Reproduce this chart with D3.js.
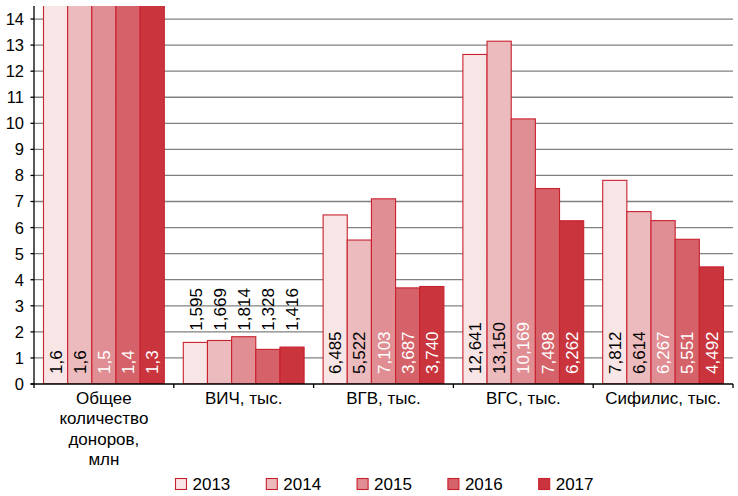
<!DOCTYPE html>
<html><head><meta charset="utf-8">
<script src="https://cdn.jsdelivr.net/npm/d3@7/dist/d3.min.js"></script>
<style>
html,body{margin:0;padding:0;background:#fff;}
svg{display:block;font-family:"Liberation Sans",Arial,Helvetica,sans-serif;}
</style></head>
<body><svg id="chart" width="738" height="496"></svg>
<script>
// ---- data ----
const categories = ["Общее количество доноров, млн", "ВИЧ, тыс.", "ВГВ, тыс.", "ВГС, тыс.", "Сифилис, тыс."];
const categoryLines = [["Общее", "количество", "доноров,", "млн"], ["ВИЧ, тыс."], ["ВГВ, тыс."], ["ВГС, тыс."], ["Сифилис, тыс."]];
const years = ["2013", "2014", "2015", "2016", "2017"];
const v2013 = [1.6, 1.595, 6.485, 12.641, 7.812];
const v2014 = [1.6, 1.669, 5.522, 13.150, 6.614];
const v2015 = [1.5, 1.814, 7.103, 10.169, 6.267];
const v2016 = [1.4, 1.328, 3.687, 7.498, 5.551];
const v2017 = [1.3, 1.416, 3.740, 6.262, 4.492];
const yTicks = [0, 1, 2, 3, 4, 5, 6, 7, 8, 9, 10, 11, 12, 13, 14];
// first category is in millions; plotted in thousands like the others
const unitFactor = [1000, 1, 1, 1, 1];
const labelDecimals = [1, 3, 3, 3, 3];

// ---- styles ----
const fills = ["#f8e6e7", "#ecbbbe", "#e08e93", "#d56268", "#c9343d"];
const strokeCol = "#c9202e";
const inLabelColors = ["#000", "#000", "#fff", "#fff", "#fff"];

const series = [v2013, v2014, v2015, v2016, v2017];
const svg = d3.select("#chart");
const pL = 34, pR = 733, pT = 6, pB = 384;

const x0 = d3.scaleBand().domain(categories).range([pL, pR]).paddingInner(0).paddingOuter(0);
const x1 = d3.scaleBand().domain(years).range([9.5, x0.bandwidth() - 9.5]).padding(0);
const y = d3.scaleLinear().domain([0, 14.5]).range([pB, pT]);

const loc = d3.formatLocale({decimal: ",", thousands: " ", grouping: [3], currency: ["", ""]});

// clip
svg.append("defs").append("clipPath").attr("id", "plotclip")
  .append("rect").attr("x", pL).attr("y", pT).attr("width", pR - pL).attr("height", pB - pT);

// gridlines
svg.append("g").selectAll("line").data(yTicks.filter(d => d > 0)).join("line")
  .attr("x1", pL).attr("x2", pR)
  .attr("y1", d => y(d)).attr("y2", d => y(d))
  .attr("stroke", "#808080").attr("stroke-width", 1.3);

// bars
const barsG = svg.append("g").attr("clip-path", "url(#plotclip)");
categories.forEach((c, ci) => {
  years.forEach((yr, yi) => {
    const v = series[yi][ci] * unitFactor[ci];
    barsG.append("rect")
      .attr("x", x0(c) + x1(yr))
      .attr("y", y(v))
      .attr("width", x1.bandwidth())
      .attr("height", y(0) - y(v))
      .attr("fill", fills[yi])
      .attr("stroke", strokeCol)
      .attr("stroke-width", 1.1);
  });
});

// labels
const labelsG = svg.append("g").attr("font-size", 17);
categories.forEach((c, ci) => {
  const fmt = loc.format("." + labelDecimals[ci] + "f");
  const texts = years.map((yr, yi) => fmt(series[yi][ci]));
  const vals = years.map((yr, yi) => series[yi][ci] * unitFactor[ci]);
  const fits = vals.every((v, i) => (y(0) - y(v)) > texts[i].length * 8.5 + 16);
  const groupMax = d3.max(vals);
  years.forEach((yr, yi) => {
    const cx = x0(c) + x1(yr) + x1.bandwidth() / 2;
    const sy = fits ? y(0) - 10 : y(groupMax) - 6;
    labelsG.append("text")
      .attr("transform", `translate(${cx},${sy}) rotate(-90)`)
      .attr("dy", "0.36em")
      .attr("text-anchor", "start")
      .attr("fill", fits ? inLabelColors[yi] : "#000")
      .text(texts[yi]);
  });
});

// y axis
const yAxis = svg.append("g");
yAxis.append("line").attr("x1", pL).attr("x2", pL).attr("y1", pT).attr("y2", pB)
  .attr("stroke", "#000").attr("stroke-width", 1.3);
yAxis.selectAll("line.tk").data(yTicks).join("line").attr("class", "tk")
  .attr("x1", pL - 3.5).attr("x2", pL).attr("y1", d => y(d)).attr("y2", d => y(d))
  .attr("stroke", "#000").attr("stroke-width", 1.3);
yAxis.selectAll("text").data(yTicks).join("text")
  .attr("x", 24).attr("y", d => y(d)).attr("dy", "0.36em")
  .attr("text-anchor", "end").attr("font-size", 16.5).attr("fill", "#000")
  .text(d => d);

// x axis
const xAxis = svg.append("g");
xAxis.append("line").attr("x1", pL - 3.5).attr("x2", pR).attr("y1", pB).attr("y2", pB)
  .attr("stroke", "#000").attr("stroke-width", 1.3);
const bounds = categories.map(c => x0(c)).concat([pR]);
xAxis.selectAll("line.tk").data(bounds).join("line").attr("class", "tk")
  .attr("x1", d => d).attr("x2", d => d).attr("y1", pB).attr("y2", pB + 4)
  .attr("stroke", "#000").attr("stroke-width", 1.3);
categories.forEach((c, ci) => {
  const t = xAxis.append("text").attr("text-anchor", "middle").attr("font-size", 17).attr("fill", "#000");
  categoryLines[ci].forEach((ln, li) => {
    t.append("tspan").attr("x", x0(c) + x0.bandwidth() / 2).attr("y", 403.5 + li * 20.6).text(ln);
  });
});

// legend
const lg = svg.append("g");
years.forEach((yr, i) => {
  const lx = 175 + i * 90.8;
  lg.append("rect").attr("x", lx + 0.5).attr("y", 478.5).attr("width", 11).attr("height", 11)
    .attr("fill", fills[i]).attr("stroke", strokeCol).attr("stroke-width", 1.1);
  lg.append("text").attr("x", lx + 17.5).attr("y", 490).attr("font-size", 17).attr("fill", "#000").text(yr);
});
</script>
</body></html>
